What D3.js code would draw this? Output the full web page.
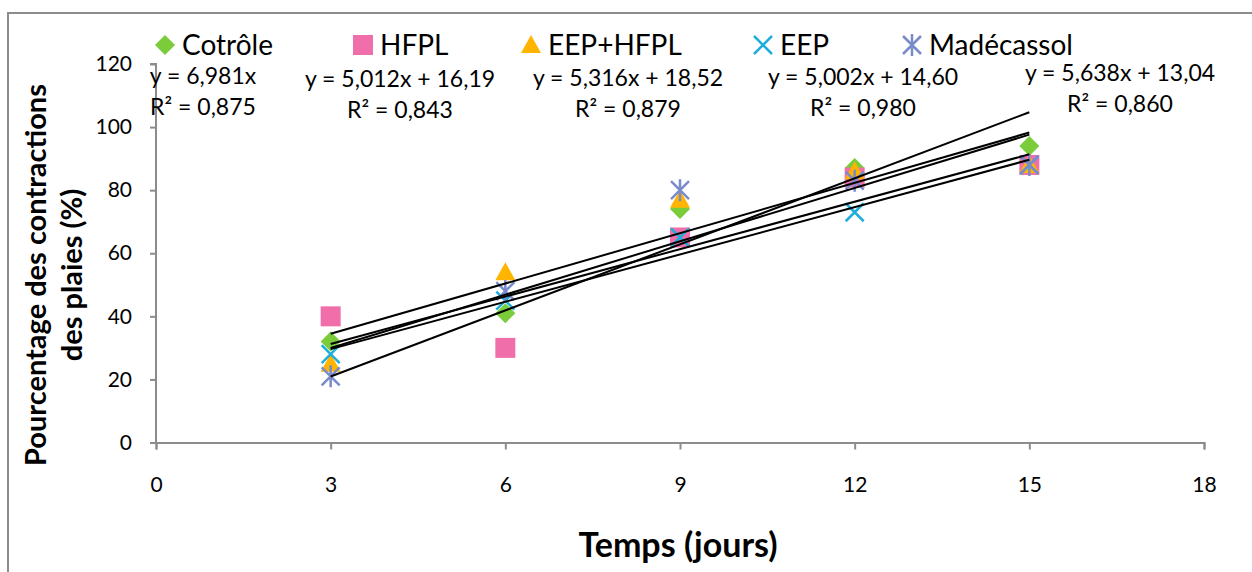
<!DOCTYPE html>
<html>
<head>
<meta charset="utf-8">
<script src="https://cdn.jsdelivr.net/npm/d3@7"></script>
<style>
  html, body { margin: 0; padding: 0; background: #fff; }
  svg { display: block; }
  text { font-family: Lato, "Open Sans", sans-serif; fill: #000; }
</style>
</head>
<body>
<svg id="chart" width="1252" height="572"></svg>
<script>
// Wound contraction (%) over time, per treatment group
const days = [3, 6, 9, 12, 15];
const seriesNames = ["Cotrôle", "HFPL", "EEP+HFPL", "EEP", "Madécassol"];
const cotrole    = [32, 41, 74, 87, 94];
const hfpl       = [40, 30, 65, 84, 88];
const eepHfpl    = [25, 54, 77, 86, 88];
const eep        = [28, 45, 65, 73, 88];
const madecassol = [21, 48, 80, 83, 88];

// Linear trend lines (slope, intercept, R²) as printed on the chart
const slopes     = [6.981, 5.012, 5.316, 5.002, 5.638];
const intercepts = [0, 16.19, 18.52, 14.60, 13.04];
const r2         = [0.875, 0.843, 0.879, 0.980, 0.860];

const xTicks = [0, 3, 6, 9, 12, 15, 18];
const yTicks = [0, 20, 40, 60, 80, 100, 120];

const seriesValues = [cotrole, hfpl, eepHfpl, eep, madecassol];

// Styling
const colors  = ["#7ACC3A", "#F06FAA", "#FFB400", "#1EAEDC", "#7A8BCB"];
const shapes  = ["diamond", "square", "triangle", "cross", "asterisk"];

const svg = d3.select("#chart");
const margin = { left: 156, right: 48, top: 64, bottom: 129.5 };
const W = 1252, H = 572;

const x = d3.scaleLinear().domain([0, 18]).range([margin.left, W - margin.right]);
const y = d3.scaleLinear().domain([0, 120]).range([H - margin.bottom, margin.top]);

// Outer chart frame
svg.append("rect")
  .attr("x", 8).attr("y", 13)
  .attr("width", 1300).attr("height", 700)
  .attr("fill", "none").attr("stroke", "#8c8c8c").attr("stroke-width", 2);

// Marker drawing
function marker(g, shape, color, cx, cy) {
  const s = 10;
  if (shape === "diamond") {
    g.append("path")
      .attr("d", `M${cx},${cy - s}L${cx + s},${cy}L${cx},${cy + s}L${cx - s},${cy}Z`)
      .attr("fill", color);
  } else if (shape === "square") {
    g.append("rect")
      .attr("x", cx - s).attr("y", cy - s).attr("width", 2 * s).attr("height", 2 * s)
      .attr("fill", color);
  } else if (shape === "triangle") {
    g.append("path")
      .attr("d", `M${cx},${cy - s}L${cx + s},${cy + 8}L${cx - s},${cy + 8}Z`)
      .attr("fill", color);
  } else if (shape === "cross") {
    const c = 9;
    g.append("path")
      .attr("d", `M${cx - c},${cy - c}L${cx + c},${cy + c}M${cx - c},${cy + c}L${cx + c},${cy - c}`)
      .attr("stroke", color).attr("stroke-width", 2.5).attr("fill", "none");
  } else if (shape === "asterisk") {
    const c = 9;
    g.append("path")
      .attr("d", `M${cx - c},${cy - c}L${cx + c},${cy + c}M${cx - c},${cy + c}L${cx + c},${cy - c}M${cx},${cy - 11}L${cx},${cy + 11}`)
      .attr("stroke", color).attr("stroke-width", 2.5).attr("fill", "none");
  }
}

// Axes
const axisColor = "#8c8c8c";
const yAxis = svg.append("g")
  .attr("transform", `translate(${x(0)},0)`)
  .call(d3.axisLeft(y).tickValues(yTicks).tickSize(6).tickPadding(18).tickFormat(d3.format("d")));
const xAxis = svg.append("g")
  .attr("transform", `translate(0,${y(0)})`)
  .call(d3.axisBottom(x).tickValues(xTicks).tickSize(7).tickPadding(28).tickFormat(d3.format("d")));
[yAxis, xAxis].forEach(a => {
  a.select(".domain").attr("stroke", axisColor).attr("stroke-width", 2);
  a.selectAll(".tick line").attr("stroke", axisColor).attr("stroke-width", 2);
  a.selectAll(".tick text").attr("font-family", "Lato, sans-serif").attr("font-size", 21).attr("fill", "#000");
});
yAxis.select(".domain").attr("d", `M-6,${y(120)}H0V${y(0)}`);

// Data markers
const markers = svg.append("g");
seriesValues.forEach((vals, i) => {
  vals.forEach((v, j) => marker(markers, shapes[i], colors[i], x(days[j]), y(v)));
});

// Trend lines over the observed range
const lines = svg.append("g");
slopes.forEach((m, i) => {
  const x0 = d3.min(days), x1 = d3.max(days);
  lines.append("line")
    .attr("x1", x(x0)).attr("y1", y(m * x0 + intercepts[i]))
    .attr("x2", x(x1)).attr("y2", y(m * x1 + intercepts[i]))
    .attr("stroke", "#000").attr("stroke-width", 2);
});

// Trend line equations
const comma = s => s.replace(".", ",");
const eqText = i => intercepts[i] === 0
  ? `y = ${comma(d3.format(".3f")(slopes[i]))}x`
  : `y = ${comma(d3.format(".3f")(slopes[i]))}x + ${comma(d3.format(".2f")(intercepts[i]))}`;
const r2Text = i => `R² = ${comma(d3.format(".3f")(r2[i]))}`;
const eqPos = [
  { cx: 203, y: 84 },
  { cx: 400, y: 87 },
  { cx: 628, y: 86 },
  { cx: 863, y: 85 },
  { cx: 1120, y: 81 }
];
const eqG = svg.append("g").attr("font-size", 23);
eqPos.forEach((p, i) => {
  eqG.append("text").attr("x", p.cx).attr("y", p.y).attr("text-anchor", "middle").text(eqText(i));
  eqG.append("text").attr("x", p.cx).attr("y", p.y + 31).attr("text-anchor", "middle").text(r2Text(i));
});

// Legend
const legendX = [165, 363, 531, 763, 912];
const legend = svg.append("g");
seriesNames.forEach((name, i) => {
  marker(legend, shapes[i], colors[i], legendX[i], 45);
  legend.append("text")
    .attr("x", legendX[i] + 17).attr("y", 55)
    .attr("font-size", 28)
    .text(name);
});

// Axis titles
svg.append("text")
  .attr("x", 678).attr("y", 557)
  .attr("text-anchor", "middle")
  .attr("font-size", 34).attr("font-weight", "bold")
  .text("Temps (jours)");

const yTitle = svg.append("text")
  .attr("transform", "translate(0,275) rotate(-90)")
  .attr("text-anchor", "middle")
  .attr("font-size", 29).attr("font-weight", "bold");
yTitle.append("tspan").attr("x", 0).attr("y", 46).text("Pourcentage des contractions");
yTitle.append("tspan").attr("x", 0).attr("y", 82).text("des plaies (%)");
</script>
</body>
</html>
